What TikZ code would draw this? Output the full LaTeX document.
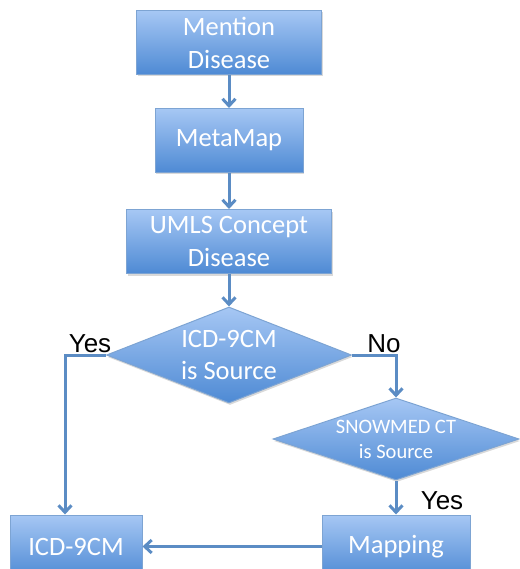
\documentclass[tikz,border=0pt]{standalone}
\usepackage{fontspec}
\usetikzlibrary{arrows.meta,positioning,shapes.geometric,shadows}
\newfontfamily\boxfont{Carlito}
\newfontfamily\labelfont{Liberation Sans}
\definecolor{FlowLine}{HTML}{5B8CC4}
\definecolor{FlowTop}{HTML}{A6C7F4}
\definecolor{FlowBottom}{HTML}{4E8AD4}
\definecolor{FlowEdge}{HTML}{7DA4D3}

\begin{document}
\begin{tikzpicture}[
  x=1pt, y=-1pt,
  procbox/.style={draw=FlowEdge, line width=1pt, top color=FlowTop, bottom color=FlowBottom,
    text=white, align=center, inner sep=0pt, minimum height=64pt,
    font=\boxfont\fontsize{26.5}{33}\selectfont,
    drop shadow={shadow xshift=1pt, shadow yshift=-2pt, opacity=0.3}},
  decision/.style={diamond, draw=FlowEdge, line width=1pt, top color=FlowTop, bottom color=FlowBottom,
    text=white, align=center, inner sep=-30pt,
    drop shadow={shadow xshift=1pt, shadow yshift=-2pt, opacity=0.3}},
  flowarrow/.style={draw=FlowLine, line width=3pt, -{Straight Barb[length=7pt,width=13pt]}},
  answer/.style={font=\labelfont\fontsize{26}{30}\selectfont, inner sep=0pt}
]
\useasboundingbox (0,0) rectangle (519,569);

% main chain
\node[procbox, minimum width=185pt] (mention) at (229,42.5) {Mention\\Disease};
\node[procbox, minimum width=148pt] (metamap) at (229,140.5) {MetaMap};
\node[procbox, minimum width=205pt] (umls) at (229,241.5) {UMLS Concept\\Disease};

% decisions
\node[decision, minimum width=245pt, minimum height=96pt,
  font=\boxfont\fontsize{26.5}{32}\selectfont] (srcicd) at (229,355) {ICD-9CM\\is Source};
\node[decision, minimum width=246pt, minimum height=82pt,
  font=\boxfont\fontsize{20.5}{25}\selectfont] (srcsno) at (396,439) {SNOWMED CT\\is Source};

% results
\node[procbox, minimum width=132pt, minimum height=63pt] (icd) at (76,546.5) {ICD-9CM};
\node[procbox, minimum width=148pt, minimum height=63pt] (mapping) at (396,546.5) {Mapping};

\coordinate (yesbend) at (65,355);

\draw[flowarrow] (mention) -- (metamap);
\draw[flowarrow] (metamap) -- (umls);
\draw[flowarrow] (umls) -- (srcicd);
\draw[flowarrow] (srcicd.west) -- (yesbend) -- (yesbend |- icd.north);
\draw[flowarrow] (srcicd.east) -| (srcsno.north);
\draw[flowarrow] (srcsno.south) -- (mapping.north);
\draw[flowarrow] (mapping.west) -- (icd.east);

\node[answer] (yesleft) at (90,344) {Yes};
\node[answer] (noright) at (384,344) {No};
\node[answer] (yesdown) at (442,501) {Yes};
\end{tikzpicture}
\end{document}
